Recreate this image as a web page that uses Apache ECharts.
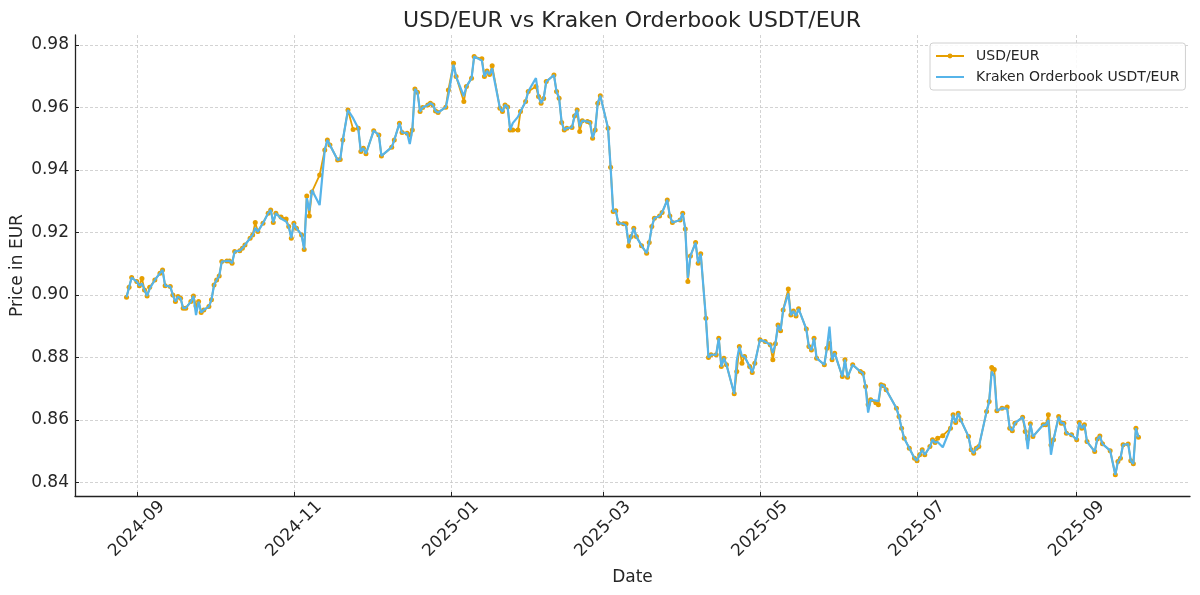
<!DOCTYPE html>
<html>
<head>
<meta charset="utf-8">
<script src="https://cdn.jsdelivr.net/npm/echarts@6/dist/echarts.min.js"></script>
<style>
html,body{margin:0;padding:0;background:#fff;}
#chart{width:1200px;height:595px;}
</style>
</head>
<body>
<div id="chart"></div>
<script>
const dates = [
'2024-08-28','2024-08-29','2024-08-30','2024-09-01','2024-09-02','2024-09-03','2024-09-04','2024-09-05','2024-09-06','2024-09-08',
'2024-09-10','2024-09-11','2024-09-12','2024-09-14','2024-09-15','2024-09-16','2024-09-17','2024-09-18','2024-09-19','2024-09-20',
'2024-09-22','2024-09-23','2024-09-24','2024-09-25','2024-09-26','2024-09-27','2024-09-29','2024-09-30','2024-10-01','2024-10-02',
'2024-10-03','2024-10-04','2024-10-06','2024-10-07','2024-10-08','2024-10-09','2024-10-11','2024-10-12','2024-10-13','2024-10-15',
'2024-10-16','2024-10-17','2024-10-18','2024-10-20','2024-10-22','2024-10-23','2024-10-24','2024-10-25','2024-10-27','2024-10-29',
'2024-10-30','2024-10-31','2024-11-01','2024-11-02','2024-11-04','2024-11-05','2024-11-06','2024-11-07','2024-11-08','2024-11-11',
'2024-11-13','2024-11-14','2024-11-15','2024-11-18','2024-11-19','2024-11-20','2024-11-22','2024-11-24','2024-11-26','2024-11-27',
'2024-11-28','2024-11-29','2024-12-02','2024-12-04','2024-12-05','2024-12-09','2024-12-10','2024-12-12','2024-12-13','2024-12-15',
'2024-12-16','2024-12-17','2024-12-18','2024-12-19','2024-12-20','2024-12-21','2024-12-23','2024-12-24','2024-12-25','2024-12-26',
'2024-12-27','2024-12-30','2024-12-31','2025-01-02','2025-01-03','2025-01-06','2025-01-07','2025-01-09','2025-01-10','2025-01-13',
'2025-01-14','2025-01-15','2025-01-16','2025-01-17','2025-01-20','2025-01-21','2025-01-22','2025-01-23','2025-01-24','2025-01-25',
'2025-01-27','2025-01-28','2025-01-30','2025-01-31','2025-02-03','2025-02-04','2025-02-05','2025-02-06','2025-02-07','2025-02-10',
'2025-02-11','2025-02-12','2025-02-13','2025-02-14','2025-02-15','2025-02-17','2025-02-18','2025-02-19','2025-02-20','2025-02-21',
'2025-02-23','2025-02-24','2025-02-25','2025-02-26','2025-02-27','2025-02-28','2025-03-03','2025-03-04','2025-03-05','2025-03-06',
'2025-03-07','2025-03-09','2025-03-10','2025-03-11','2025-03-12','2025-03-13','2025-03-14','2025-03-16','2025-03-18','2025-03-19',
'2025-03-20','2025-03-21','2025-03-23','2025-03-24','2025-03-26','2025-03-27','2025-03-28','2025-03-31','2025-04-01','2025-04-02',
'2025-04-03','2025-04-04','2025-04-06','2025-04-07','2025-04-08','2025-04-10','2025-04-11','2025-04-12','2025-04-14','2025-04-15',
'2025-04-16','2025-04-17','2025-04-18','2025-04-21','2025-04-22','2025-04-23','2025-04-24','2025-04-25','2025-04-27','2025-04-28',
'2025-04-29','2025-05-01','2025-05-03','2025-05-05','2025-05-06','2025-05-07','2025-05-08','2025-05-09','2025-05-10','2025-05-12',
'2025-05-13','2025-05-14','2025-05-15','2025-05-16','2025-05-19','2025-05-20','2025-05-21','2025-05-22','2025-05-23','2025-05-26',
'2025-05-27','2025-05-28','2025-05-29','2025-05-30','2025-06-02','2025-06-03','2025-06-04','2025-06-06','2025-06-09','2025-06-10',
'2025-06-11','2025-06-12','2025-06-13','2025-06-15','2025-06-16','2025-06-17','2025-06-18','2025-06-19','2025-06-23','2025-06-24',
'2025-06-25','2025-06-26','2025-06-28','2025-06-30','2025-07-01','2025-07-02','2025-07-03','2025-07-04','2025-07-06','2025-07-07',
'2025-07-08','2025-07-09','2025-07-11','2025-07-14','2025-07-15','2025-07-16','2025-07-17','2025-07-18','2025-07-21','2025-07-22',
'2025-07-23','2025-07-24','2025-07-25','2025-07-28','2025-07-29','2025-07-30','2025-07-31','2025-08-01','2025-08-03','2025-08-05',
'2025-08-06','2025-08-07','2025-08-08','2025-08-11','2025-08-12','2025-08-13','2025-08-14','2025-08-15','2025-08-19','2025-08-20',
'2025-08-21','2025-08-22','2025-08-23','2025-08-25','2025-08-26','2025-08-27','2025-08-28','2025-08-30','2025-09-01','2025-09-02',
'2025-09-03','2025-09-04','2025-09-05','2025-09-08','2025-09-09','2025-09-10','2025-09-11','2025-09-14','2025-09-16','2025-09-17',
'2025-09-18','2025-09-19','2025-09-21','2025-09-22','2025-09-23','2025-09-24','2025-09-25'
];

const usdEur = [
.8993,.9025,.9056,.9043,.9030,.9053,.9016,.8997,.9025,.9048,
.9070,.9080,.9030,.9027,.9000,.8979,.8995,.8990,.8958,.8958,
.8979,.8997,.8965,.8979,.8944,.8952,.8963,.8985,.9032,.9048,
.9061,.9107,.9109,.9109,.9102,.9139,.9142,.9150,.9160,.9182,
.9192,.9232,.9203,.9230,.9262,.9272,.9232,.9262,.9250,.9243,
.9219,.9182,.9230,.9214,.9192,.9146,.9317,.9253,.9330,.9384,
.9464,.9496,.9480,.9432,.9434,.9496,.9592,.9530,.9534,.9459,
.9470,.9452,.9526,.9512,.9445,.9473,.9496,.9550,.9520,.9518,
.9512,.9528,.9659,.9649,.9587,.9600,.9608,.9614,.9608,.9589,
.9584,.9601,.9656,.9742,.9699,.9619,.9667,.9694,.9763,.9756,
.9699,.9717,.9706,.9734,.9598,.9587,.9608,.9602,.9528,.9528,
.9528,.9587,.9619,.9651,.9667,.9635,.9614,.9629,.9683,.9704,
.9651,.9630,.9552,.9528,.9534,.9536,.9573,.9592,.9523,.9558,
.9555,.9552,.9502,.9528,.9614,.9638,.9534,.9409,.9267,.9270,
.9230,.9228,.9228,.9157,.9187,.9214,.9187,.9158,.9134,.9168,
.9219,.9246,.9253,.9264,.9304,.9253,.9232,.9240,.9262,.9211,
.9043,.9125,.9168,.9102,.9132,.8926,.8800,.8809,.8809,.8862,
.8771,.8798,.8777,.8684,.8755,.8835,.8782,.8803,.8771,.8752,
.8782,.8857,.8851,.8841,.8793,.8844,.8904,.8886,.8952,.9019,
.8936,.8949,.8933,.8956,.8891,.8835,.8824,.8862,.8798,.8777,
.8830,.8845,.8793,.8814,.8739,.8793,.8737,.8777,.8755,.8750,
.8707,.8650,.8665,.8655,.8649,.8713,.8710,.8697,.8638,.8611,
.8574,.8542,.8510,.8478,.8470,.8489,.8505,.8489,.8515,.8537,
.8528,.8542,.8550,.8574,.8617,.8592,.8622,.8600,.8547,.8505,
.8494,.8510,.8515,.8627,.8659,.8768,.8762,.8630,.8638,.8642,
.8574,.8566,.8590,.8609,.8563,.8540,.8588,.8547,.8585,.8585,
.8617,.8520,.8537,.8611,.8590,.8590,.8558,.8553,.8537,.8592,
.8574,.8585,.8531,.8499,.8539,.8549,.8524,.8502,.8425,.8467,
.8478,.8521,.8523,.8470,.8460,.8574,.8545
];

const kraken = [
.8993,.9025,.9056,.9043,.9030,.9037,.9016,.8997,.9020,.9048,
.9070,.9080,.9030,.9027,.9000,.8979,.8995,.8990,.8958,.8958,
.8979,.8997,.8936,.8979,.8944,.8952,.8963,.8985,.9032,.9048,
.9061,.9107,.9109,.9109,.9102,.9139,.9142,.9150,.9160,.9182,
.9192,.9215,.9203,.9230,.9262,.9272,.9232,.9262,.9245,.9235,
.9219,.9182,.9230,.9214,.9192,.9146,.9310,.9270,.9336,.9288,
.9464,.9496,.9480,.9432,.9434,.9496,.9592,.9566,.9534,.9459,
.9470,.9452,.9526,.9512,.9445,.9473,.9496,.9550,.9520,.9518,
.9483,.9528,.9659,.9649,.9587,.9600,.9608,.9614,.9608,.9589,
.9584,.9601,.9640,.9737,.9699,.9636,.9667,.9694,.9763,.9750,
.9699,.9717,.9706,.9725,.9598,.9587,.9608,.9602,.9528,.9550,
.9570,.9587,.9619,.9651,.9694,.9635,.9614,.9629,.9683,.9704,
.9651,.9630,.9552,.9528,.9534,.9536,.9573,.9592,.9540,.9558,
.9555,.9552,.9502,.9528,.9614,.9638,.9534,.9409,.9267,.9270,
.9230,.9228,.9222,.9165,.9187,.9214,.9187,.9158,.9134,.9168,
.9219,.9246,.9253,.9264,.9304,.9253,.9232,.9240,.9262,.9211,
.9055,.9125,.9168,.9102,.9132,.8926,.8800,.8809,.8809,.8862,
.8771,.8798,.8777,.8684,.8790,.8835,.8805,.8803,.8771,.8752,
.8782,.8857,.8851,.8841,.8815,.8844,.8904,.8886,.8952,.9005,
.8936,.8949,.8933,.8956,.8891,.8835,.8824,.8862,.8798,.8777,
.8830,.8899,.8793,.8814,.8739,.8793,.8737,.8777,.8755,.8750,
.8707,.8624,.8665,.8662,.8660,.8713,.8710,.8697,.8638,.8611,
.8574,.8542,.8510,.8478,.8470,.8489,.8505,.8489,.8515,.8537,
.8528,.8530,.8513,.8574,.8617,.8592,.8622,.8600,.8547,.8505,
.8494,.8510,.8515,.8627,.8659,.8755,.8740,.8630,.8638,.8636,
.8574,.8566,.8590,.8609,.8575,.8507,.8588,.8547,.8585,.8585,
.8600,.8489,.8537,.8611,.8590,.8590,.8558,.8553,.8537,.8592,
.8574,.8585,.8531,.8499,.8539,.8549,.8524,.8502,.8425,.8467,
.8478,.8521,.8523,.8470,.8460,.8574,.8545
];

const xTickLabels = ['2024-09','2024-11','2025-01','2025-03','2025-05','2025-07','2025-09'];
const yTickValues = [0.84,0.86,0.88,0.90,0.92,0.94,0.96,0.98];

function ts(s){ const p = s.split('-').map(Number); return Date.UTC(p[0], p[1]-1, p[2] || 1); }
const xTicks = xTickLabels.map(ts);
const FONT = 'DejaVu Sans';
const TXT = '#262626';
const ORANGE = '#E69F00';
const BLUE = '#56B4E9';

const chart = echarts.init(document.getElementById('chart'), null, {renderer:'canvas'});
chart.setOption({
  animation:false,
  backgroundColor:'#fff',
  textStyle:{fontFamily:FONT},
  title:{
    text:'USD/EUR vs Kraken Orderbook USDT/EUR',
    left:632, top:10, textAlign:'center', padding:0,
    textStyle:{fontFamily:FONT, fontSize:22, fontWeight:'normal', color:TXT}
  },
  legend:{
    orient:'vertical', left:930, top:43, padding:[5,6,5,5], itemGap:5,
    itemWidth:28, itemHeight:6,
    backgroundColor:'rgba(255,255,255,0.85)', borderColor:'#d0d0d0', borderWidth:1, borderRadius:3,
    textStyle:{fontFamily:FONT, fontSize:14, color:TXT, padding:[0,0,0,7], lineHeight:16},
    data:[
      {name:'USD/EUR'},
      {name:'Kraken Orderbook USDT/EUR', itemStyle:{opacity:0}, lineStyle:{color:BLUE, width:2, opacity:1}}
    ]
  },
  grid:{left:75, right:10, top:35, bottom:99, containLabel:false, outerBoundsMode:'none'},
  xAxis:{
    type:'value',
    min:ts('2024-08-08'), max:ts('2025-10-15'),
    name:'Date', nameLocation:'middle', nameGap:73, nameMoveOverlap:false,
    nameTextStyle:{fontFamily:FONT, fontSize:17, color:TXT},
    axisLine:{show:true, onZero:false, lineStyle:{color:'#222', width:1.3}},
    axisTick:{show:true, inside:true, length:4, customValues:xTicks, lineStyle:{color:'#222', width:1}},
    axisLabel:{
      customValues:xTicks, rotate:45, align:'center', verticalAlign:'middle', margin:33,
      fontFamily:FONT, fontSize:17, color:TXT,
      formatter:function(v){ const d=new Date(v); const m=d.getUTCMonth()+1; return d.getUTCFullYear()+'-'+(m<10?'0':'')+m; }
    },
    splitLine:{show:true, lineStyle:{color:'#c8c8c8', width:0.8, type:[3,2]}}
  },
  yAxis:{
    type:'value', min:0.8357, max:0.9832,
    name:'Price in EUR', nameLocation:'middle', nameGap:49, nameRotate:90, nameMoveOverlap:false,
    nameTextStyle:{fontFamily:FONT, fontSize:17, color:TXT},
    axisLine:{show:true, onZero:false, lineStyle:{color:'#222', width:1.3}},
    axisTick:{show:true, inside:true, length:4, customValues:yTickValues, lineStyle:{color:'#222', width:1}},
    axisLabel:{customValues:yTickValues, margin:6, fontFamily:FONT, fontSize:17, color:TXT,
      formatter:function(v){ return v.toFixed(2); }},
    splitLine:{show:true, lineStyle:{color:'#c8c8c8', width:0.8, type:[3,2]}}
  },
  series:[
    {
      name:'USD/EUR', type:'line',
      data:dates.map((d,i)=>[ts(d), usdEur[i]]),
      showSymbol:true, symbol:'circle', symbolSize:5,
      itemStyle:{color:ORANGE},
      lineStyle:{color:ORANGE, width:1.8},
      z:2
    },
    {
      name:'Kraken Orderbook USDT/EUR', type:'line',
      data:dates.map((d,i)=>[ts(d), kraken[i]]),
      symbol:'none',
      itemStyle:{color:BLUE},
      lineStyle:{color:BLUE, width:2.2},
      z:3
    }
  ]
});
</script>
</body>
</html>
